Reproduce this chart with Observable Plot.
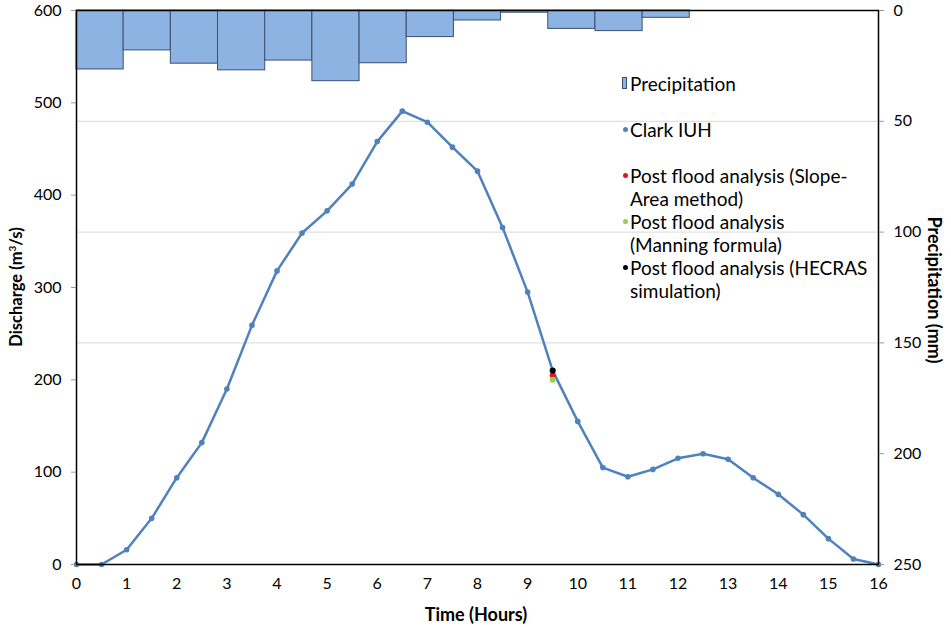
<!DOCTYPE html>
<html><head><meta charset="utf-8">
<script src="https://cdn.jsdelivr.net/npm/d3@7"></script>
<script src="https://cdn.jsdelivr.net/npm/@observablehq/plot@0.6"></script>
<style>
body{margin:0;background:#fff;font-family:Lato,"Open Sans",sans-serif;}
#wrap{position:relative;width:951px;height:627px;overflow:hidden;}
#legend{position:absolute;left:621px;top:72px;font-size:19px;color:#000;line-height:23px;}
#legend .row{position:relative;padding-left:9px;white-space:nowrap;}
#legend .dot{position:absolute;left:2px;top:9px;width:5px;height:5px;border-radius:50%;}
#legend .box{position:absolute;left:1px;top:5px;width:5px;height:12px;background:#8db3e2;border:1px solid #3b4f72;box-sizing:border-box;}
.lab{position:absolute;font-weight:bold;font-size:18px;white-space:nowrap;color:#000;}
</style></head><body><div id="wrap"></div>
<script>
const hours = [0,0.5,1,1.5,2,2.5,3,3.5,4,4.5,5,5.5,6,6.5,7,7.5,8,8.5,9,9.5,10,10.5,11,11.5,12,12.5,13,13.5,14,14.5,15,15.5,16];
const clarkIUH = [0,0,16,50,94,132,190,259,318,359,383,412,458,491,479,452,426,365,295,210,155,105,95,103,115,120,114,94,76,54,28,6,0];
const precipCategories = [0,1,2,3,4,5,6,7,8,9,10,11,12,13,14,15,16];
const precipMM = [26.6,18,24,27,22.6,31.9,23.8,12,4.5,1,8.3,9.3,3.3,0,0,0,0];
const postFloodLabels = ["Post flood analysis (Slope-Area method)","Post flood analysis (Manning formula)","Post flood analysis (HECRAS simulation)"];
const postFloodTime = [9.5,9.5,9.5];
const postFloodQ = [205,200,210];
const postFloodColors = ["#e8141b","#92d050","#000000"];
const dischargeTicks = [0,100,200,300,400,500,600];
const precipTicks = [0,50,100,150,200,250];
const precipGrid = [50,100,150];
const timeTicks = [0,1,2,3,4,5,6,7,8,9,10,11,12,13,14,15,16];

const QMAX = 600, PMAX = 250, TMAX = 16;
const p2q = p => QMAX - p * QMAX / PMAX;       // secondary (reversed) axis mapping
const nCat = precipCategories.length;          // secondary category axis spanning the frame

const clark = hours.map((t, i) => ({t, q: clarkIUH[i]}));
const rain = precipCategories.map((c, i) => ({c, p: precipMM[i]}));
const post = postFloodLabels.map((l, i) => ({l, t: postFloodTime[i], q: postFloodQ[i], color: postFloodColors[i]}));

const chart = Plot.plot({
  width: 951, height: 627,
  marginLeft: 76, marginRight: 73, marginTop: 10, marginBottom: 63,
  style: {fontFamily: "Lato, 'Open Sans', sans-serif", fontSize: "16px", color: "#000", background: "#fff"},
  x: {domain: [0, TMAX]},
  y: {domain: [0, QMAX]},
  marks: [
    Plot.ruleY(precipGrid, {y: d => p2q(d), stroke: "#d9d9d9", strokeWidth: 1}),
    Plot.rectY(rain.filter(d => d.p > 0), {
      x1: d => d.c * TMAX / nCat, x2: d => (d.c + 1) * TMAX / nCat,
      y1: QMAX, y2: d => p2q(d.p),
      fill: "#8db3e2", stroke: "#3b4f72", strokeWidth: 1
    }),
    Plot.line(clark, {x: "t", y: "q", stroke: "#4f81bd", strokeWidth: 2.5}),
    Plot.dot(clark, {x: "t", y: "q", r: 2.8, fill: "#4f81bd"}),
    Plot.dot(post, {x: "t", y: "q", r: 3, fill: "color"}),
    Plot.frame({stroke: "#000", strokeWidth: 1.5}),
    Plot.axisX({ticks: timeTicks, tickSize: 0, tickPadding: 13, tickFormat: d => String(d), label: null}),
    Plot.axisY({ticks: dischargeTicks, tickSize: 5, tickPadding: 10, stroke: "#999", tickFormat: d => String(d), label: null}),
    Plot.axisY({anchor: "right", ticks: precipTicks.map(p2q), tickSize: 5, tickPadding: 10, stroke: "#999",
      tickFormat: d => String(Math.round((QMAX - d) * PMAX / QMAX)), label: null})
  ]
});
const wrap = document.getElementById("wrap");
wrap.appendChild(chart);

const legend = document.createElement("div");
legend.id = "legend";
const rows = [
  {box: true, lines: ["Precipitation"]},
  {lines: [""]},
  {color: "#4f81bd", lines: ["Clark IUH"]},
  {lines: [""]},
  {color: postFloodColors[0], lines: ["Post flood analysis (Slope-", "Area method)"]},
  {color: postFloodColors[1], lines: ["Post flood analysis", "(Manning formula)"]},
  {color: postFloodColors[2], lines: ["Post flood analysis (HECRAS", "simulation)"]}
];
for (const r of rows) {
  const div = document.createElement("div");
  div.className = "row";
  if (r.box) { const b = document.createElement("span"); b.className = "box"; div.appendChild(b); }
  if (r.color) { const b = document.createElement("span"); b.className = "dot"; b.style.background = r.color; div.appendChild(b); }
  r.lines.forEach((t, i) => {
    if (i) div.appendChild(document.createElement("br"));
    div.appendChild(document.createTextNode(t || "\u00a0"));
  });
  legend.appendChild(div);
}
wrap.appendChild(legend);

function label(text, css) {
  const d = document.createElement("div");
  d.className = "lab";
  d.innerHTML = text;
  Object.assign(d.style, css);
  wrap.appendChild(d);
}
label("Time (Hours)", {left: "476px", top: "614px", transform: "translate(-50%,-50%)"});
label("Discharge (m<sup style='font-size:10px'>3</sup>/s)", {left: "16px", top: "287px", fontSize: "16.5px", transform: "translate(-50%,-50%) rotate(-90deg)"});
label("Precipitation (mm)", {left: "935px", top: "290px", transform: "translate(-50%,-50%) rotate(90deg)"});
</script></body></html>
